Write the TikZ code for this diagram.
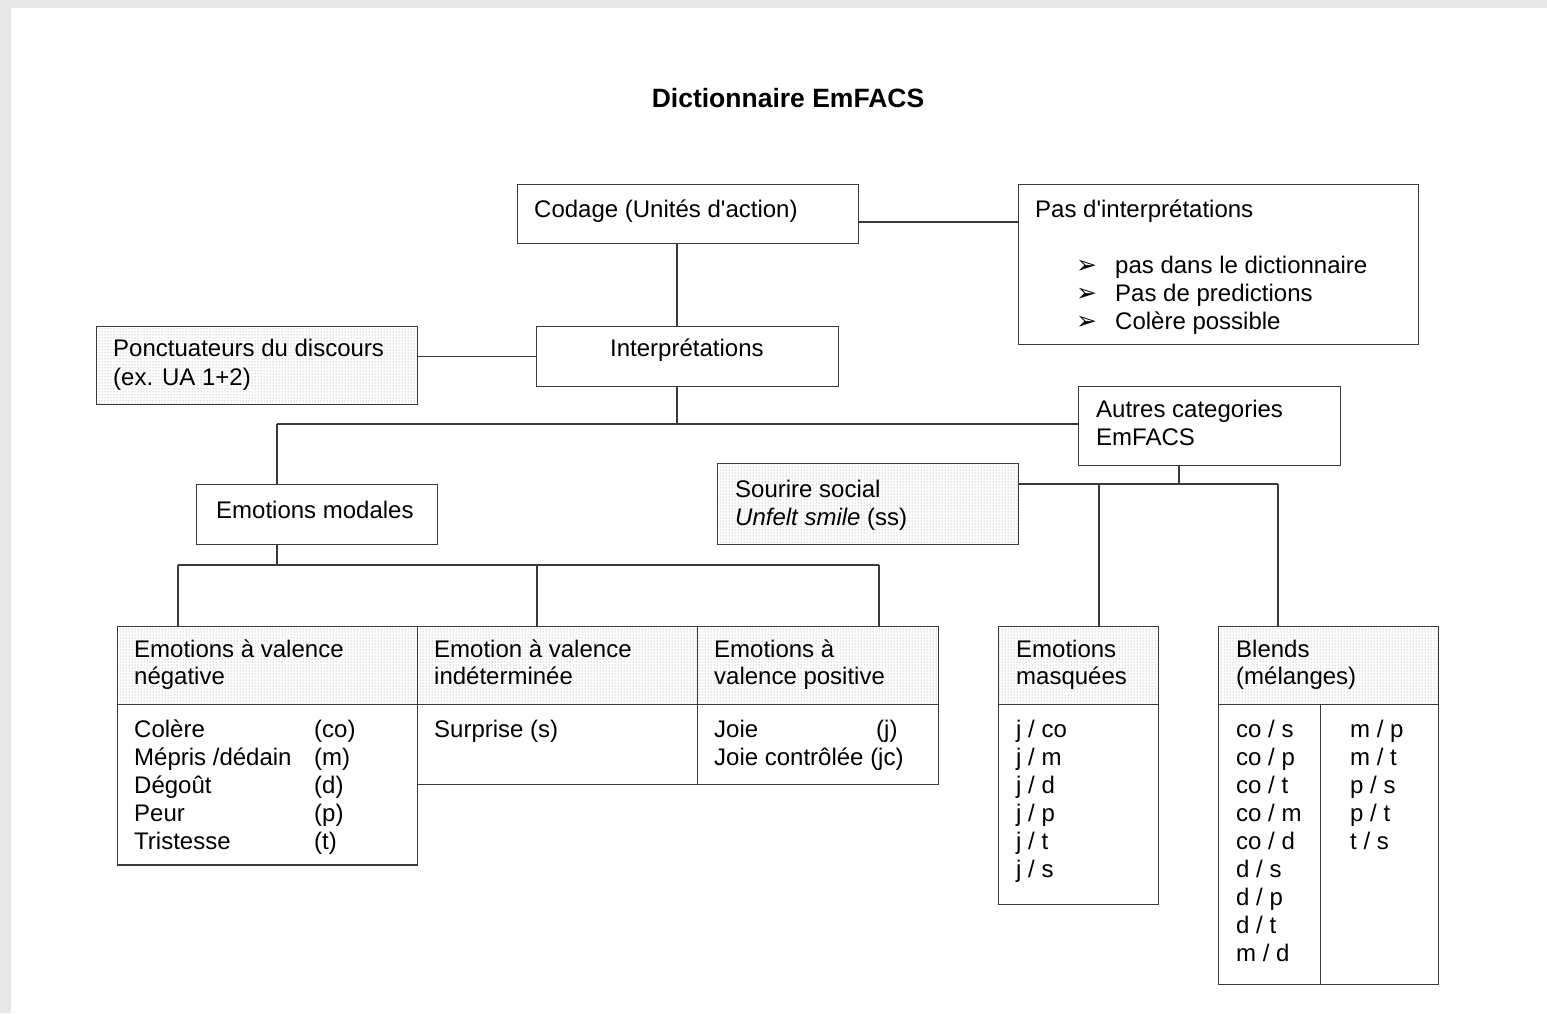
\documentclass[tikz,border=0pt]{standalone}
\usepackage{fontspec}
\setmainfont{Liberation Sans}
\newfontfamily\symfont{DejaVu Sans}
\usetikzlibrary{patterns}
\definecolor{linec}{HTML}{3A3A3A}
\definecolor{pagebg}{HTML}{E8E8E8}
\begin{document}
\begin{tikzpicture}[x=1pt,y=-1pt,
  box/.style={draw=linec, line width=1.3pt, inner sep=0pt, anchor=north west},
  pat/.style={pattern=dots, pattern color=black!45},
  txt/.style={anchor=base west, inner sep=0pt, font=\fontsize{24}{28}\selectfont},
  bul/.style={anchor=base west, inner sep=0pt, font=\symfont\fontsize{25}{28}\selectfont},
  conn/.style={draw=linec, line width=1.2pt}]
% page
\useasboundingbox (0,0) rectangle (1547,1013);
\fill[pagebg] (0,0) rectangle (1547,1013);
\fill[white] (11,8) rectangle (1547,1013);
% title
\node[anchor=base, inner sep=0pt, font=\bfseries\fontsize{26.5}{30}\selectfont] (title) at (788,107) {Dictionnaire EmFACS};
% boxes
\node[box, minimum width=341pt, minimum height=59pt] (codage) at (517,184) {};
\node[box, minimum width=400pt, minimum height=160pt] (pas) at (1018,184) {};
\node[box, minimum width=302pt, minimum height=60pt] (interp) at (536,326) {};
\node[box, pat, minimum width=321pt, minimum height=78pt] (ponct) at (96,326) {};
\node[box, minimum width=262pt, minimum height=79pt] (autres) at (1078,386) {};
\node[box, minimum width=241pt, minimum height=60pt] (emod) at (196,484) {};
\node[box, pat, minimum width=301pt, minimum height=81pt] (sourire) at (717,463) {};
% valence table
\node[box, pat, minimum width=300pt, minimum height=78pt] (hneg) at (117,626) {};
\node[box, pat, minimum width=280pt, minimum height=78pt] (hind) at (417,626) {};
\node[box, pat, minimum width=241pt, minimum height=78pt] (hpos) at (697,626) {};
\node[box, minimum width=300pt, minimum height=160pt] (bneg) at (117,704) {};
\node[box, minimum width=280pt, minimum height=80pt] (bind) at (417,704) {};
\node[box, minimum width=241pt, minimum height=80pt] (bpos) at (697,704) {};
\draw[linec, line width=2.2pt] (bneg.south west) -- (bneg.south east);
% masquees
\node[box, pat, minimum width=160pt, minimum height=78pt] (hmasq) at (998,626) {};
\node[box, minimum width=160pt, minimum height=200pt] (bmasq) at (998,704) {};
% blends
\node[box, pat, minimum width=220pt, minimum height=78pt] (hblend) at (1218,626) {};
\node[box, minimum width=102pt, minimum height=280pt] (bblendl) at (1218,704) {};
\node[box, minimum width=118pt, minimum height=280pt] (bblendr) at (1320,704) {};
% texts
\node[txt] (tcodage) at (534,217) {Codage (Unités d\textquotesingle action)};
\node[txt] (tpas) at (1035,217) {Pas d\textquotesingle interprétations};
\node[bul] (b1) at (1076,273) {➢};
\node[bul] (b2) at (1076,301) {➢};
\node[bul] (b3) at (1076,329) {➢};
\node[txt] (tpas1) at (1115,273) {pas dans le dictionnaire};
\node[txt] (tpas2) at (1115,301) {Pas de predictions};
\node[txt] (tpas3) at (1115,329) {Colère possible};
\node[txt] (tinterp) at (610,356) {Interprétations};
\node[txt] (tponct1) at (113,356) {Ponctuateurs du discours};
\node[txt] (tponct2) at (113,385) {(ex. UA 1+2)};
\node[txt] (tautres1) at (1096,417) {Autres categories};
\node[txt] (tautres2) at (1096,445) {EmFACS};
\node[txt] (temod) at (216,518) {Emotions modales};
\node[txt] (tsour1) at (735,497) {Sourire social};
\node[txt] (tsour2) at (735,525) {\textit{Unfelt smile} (ss)};
\node[txt] (thneg1) at (134,657) {Emotions à valence};
\node[txt] (thneg2) at (134,684) {négative};
\node[txt] (thind1) at (434,657) {Emotion à valence};
\node[txt] (thind2) at (434,684) {indéterminée};
\node[txt] (thpos1) at (714,657) {Emotions à};
\node[txt] (thpos2) at (714,684) {valence positive};
\node[txt] (n1) at (134,737) {Colère};
\node[txt] (n2) at (134,765) {Mépris /dédain};
\node[txt] (n3) at (134,793) {Dégoût};
\node[txt] (n4) at (134,821) {Peur};
\node[txt] (n5) at (134,849) {Tristesse};
\node[txt] (c1) at (314,737) {(co)};
\node[txt] (c2) at (314,765) {(m)};
\node[txt] (c3) at (314,793) {(d)};
\node[txt] (c4) at (314,821) {(p)};
\node[txt] (c5) at (314,849) {(t)};
\node[txt] (tsurp) at (434,737) {Surprise (s)};
\node[txt] (tjoie) at (714,737) {Joie};
\node[txt] (tjoiec) at (876,737) {(j)};
\node[txt] (tjoie2) at (714,765) {Joie contrôlée (jc)};
\node[txt] (tmasq1) at (1016,657) {Emotions};
\node[txt] (tmasq2) at (1016,684) {masquées};
\foreach \t [count=\i] in {j / co, j / m, j / d, j / p, j / t, j / s}
  \node[txt] (m\i) at (1016,709+28*\i) {\t};
\node[txt] (tbl1) at (1236,657) {Blends};
\node[txt] (tbl2) at (1236,684) {(mélanges)};
\foreach \t [count=\i] in {co / s, co / p, co / t, co / m, co / d, d / s, d / p, d / t, m / d}
  \node[txt] (bl\i) at (1236,709+28*\i) {\t};
\foreach \t [count=\i] in {m / p, m / t, p / s, p / t, t / s}
  \node[txt] (br\i) at (1350,709+28*\i) {\t};
% connectors
\coordinate (j0) at (858,222);
\coordinate (j1) at (677,424);
\coordinate (j2) at (277,424);
\coordinate (j3) at (277,565);
\coordinate (j4) at (1179,484);
\draw[conn] (codage.east |- j0) -- (j0 -| pas.west);
\draw[conn] (codage.south -| j1) -- (interp.north -| j1);
\draw[conn] (ponct.east |- interp.west) -- (interp.west);
\draw[conn] (interp.south -| j1) -- (j1);
\draw[conn] (j2) -- (j2 -| autres.west);
\draw[conn] (j2) -- (emod.north -| j2);
\draw[conn] (emod.south -| j3) -- (j3);
\draw[conn] (178,565) -- (879,565);
\draw[conn] (178,565) -- (hneg.north -| 178,0);
\draw[conn] (537,565) -- (hind.north -| 537,0);
\draw[conn] (879,565) -- (hpos.north -| 879,0);
\draw[conn] (autres.south -| j4) -- (j4);
\draw[conn] (sourire.east |- j4) -- (1278,484);
\draw[conn] (1099,484) -- (hmasq.north -| 1099,0);
\draw[conn] (1278,484) -- (hblend.north -| 1278,0);
\end{tikzpicture}
\end{document}
